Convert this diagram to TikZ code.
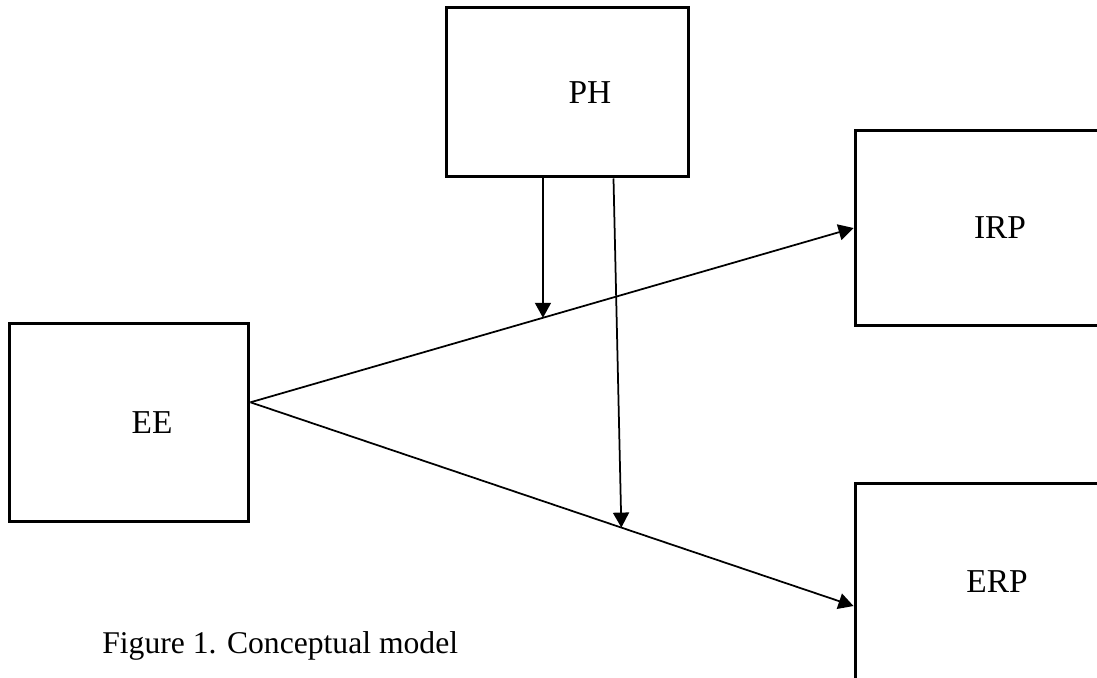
\documentclass[tikz,border=0pt]{standalone}
\usepackage{fontspec}
\setmainfont{Liberation Serif}
\usetikzlibrary{arrows.meta,calc}
\begin{document}
\begin{tikzpicture}[x=0.02cm,y=-0.02cm,
    box/.style={draw,line width=0.06cm,inner sep=0pt},
    lbl/.style={font=\fontsize{19}{23}\selectfont,inner sep=0pt},
    link/.style={line width=0.035cm,-{Triangle[length=0.3cm,width=0.32cm]}}]
  \useasboundingbox (0,0) rectangle (1097,677);
  \draw
    (129,422.5) node[box,minimum width=4.8cm,minimum height=3.98cm] (ee){}
    (567.5,92) node[box,minimum width=4.86cm,minimum height=3.4cm] (ph){}
    (987.5,228) node[box,minimum width=5.3cm,minimum height=3.92cm] (irp){}
    (987.5,606) node[box,minimum width=5.3cm,minimum height=4.92cm] (erp){};
  \draw
    (152,423) node[lbl] (eelabel){EE}
    (590,93) node[lbl] (phlabel){PH}
    (1000,228) node[lbl] (irplabel){IRP}
    (997,582) node[lbl] (erplabel){ERP};
  \node[anchor=base west,inner sep=0pt,font=\fontsize{18}{22}\selectfont]
    (caption) at (102,653) {Figure 1. Conceptual model};
  % paths between the boxes
  \coordinate (eeout) at ($(ee.north east)!0.4!(ee.south east)$);
  \coordinate (m1) at ($(eeout)!0.485!(irp.west)$);
  \coordinate (m2) at ($(eeout)!0.615!(erp.west)$);
  \coordinate (ph2) at ($(ph.south west)!0.687!(ph.south east)$);
  \begin{scope}[link]
    \draw (eeout) to (irp.west);
    \draw (eeout) to (erp.west);
    \draw (ph.south -| m1) to (m1);
    \draw (ph2) to (m2);
  \end{scope}
\end{tikzpicture}
\end{document}
